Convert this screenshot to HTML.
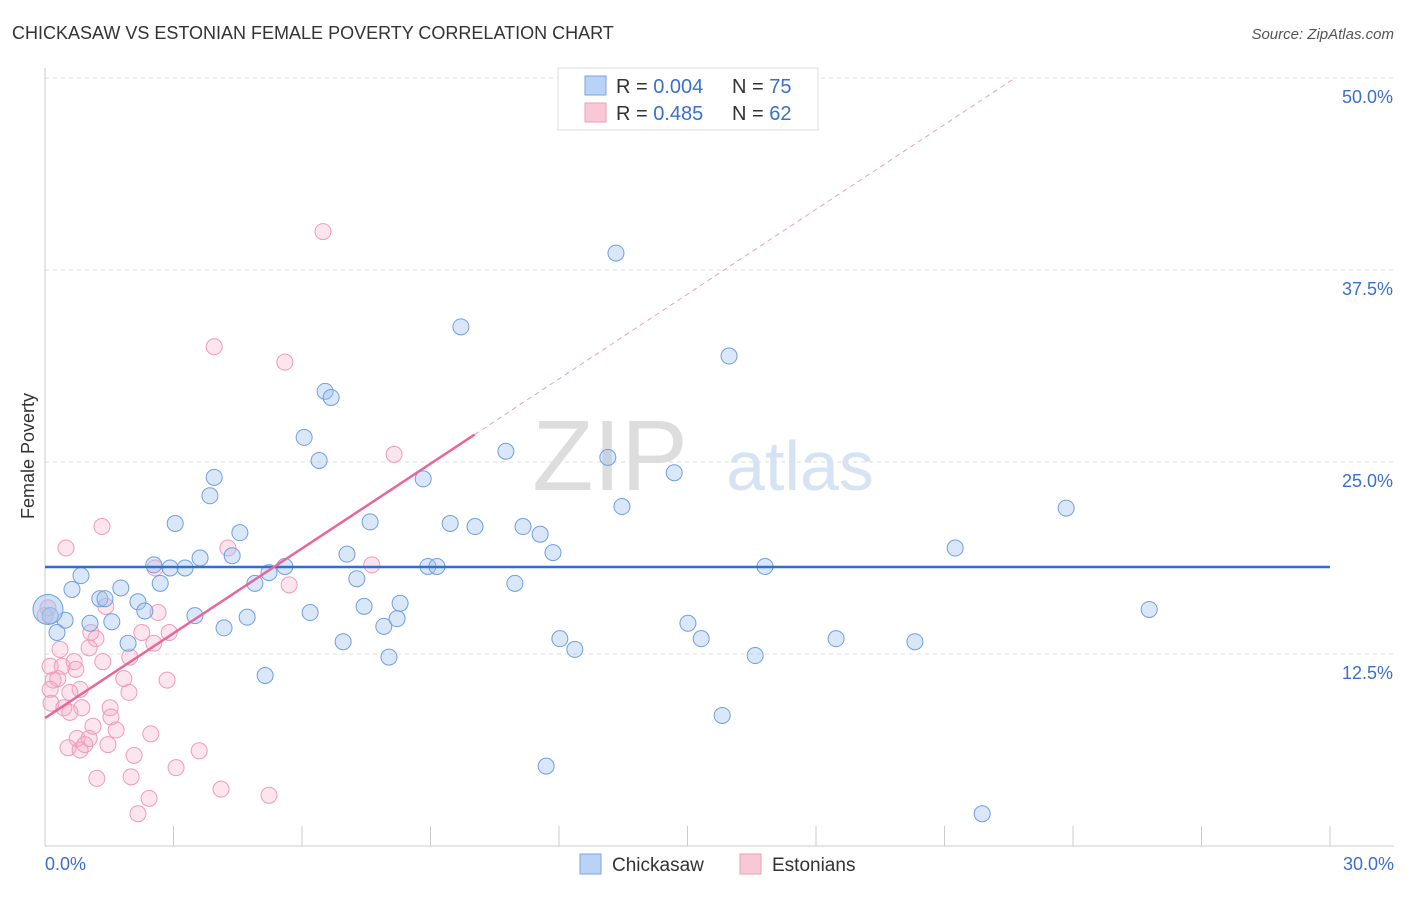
<!DOCTYPE html>
<html><head><meta charset="utf-8"><style>
body{margin:0;background:#fff;font-family:"Liberation Sans",sans-serif;}
svg text{font-family:"Liberation Sans",sans-serif;}
</style></head><body>
<svg id="chart" width="1406" height="892" viewBox="0 0 1406 892">
<text x="12" y="39" font-size="18" fill="#333">CHICKASAW VS ESTONIAN FEMALE POVERTY CORRELATION CHART</text>
<text x="1394" y="39" font-size="15" fill="#555" font-style="italic" text-anchor="end">Source: ZipAtlas.com</text>
<text x="34" y="456" font-size="18" fill="#333" transform="rotate(-90 34 456)" text-anchor="middle">Female Poverty</text>
<text x="610" y="490" font-size="100" fill="#ddd" font-family="Liberation Serif" text-anchor="middle">ZIP</text>
<text x="800" y="490" font-size="70" fill="#d6e3f5" text-anchor="middle">atlas</text>
<g id="grid"></g><g id="axes"></g>
<g id="pink"></g><g id="blue"></g><g id="lines"></g>
<g>
<rect x="558" y="68" width="260" height="62" fill="#fff" stroke="#ddd"/>
<rect x="585" y="76" width="21" height="19" fill="#b8d3f5" stroke="#7aa6e0"/>
<rect x="585" y="103" width="21" height="19" fill="#f8c8d6" stroke="#eba0b8"/>
<text x="616" y="93" font-size="20" fill="#333">R = <tspan fill="#3a6fcc">0.004</tspan></text>
<text x="732" y="93" font-size="20" fill="#333">N = <tspan fill="#3a6fcc">75</tspan></text>
<text x="616" y="120" font-size="20" fill="#333">R =  <tspan fill="#3a6fcc">0.485</tspan></text>
<text x="732" y="120" font-size="20" fill="#333">N = <tspan fill="#3a6fcc">62</tspan></text>
</g>
<g>
<rect x="580" y="854" width="21" height="20" fill="#b8d3f5" stroke="#7aa6e0"/>
<text x="612" y="871" font-size="19" fill="#333">Chickasaw</text>
<rect x="740" y="854" width="21" height="20" fill="#f8c8d6" stroke="#eba0b8"/>
<text x="772" y="871" font-size="19" fill="#333">Estonians</text>
</g>
</svg>
<script>
const yTicks=[12.5,25,37.5,50];
const yTickLabels=["12.5%","25.0%","37.5%","50.0%"];
const blueX=[13.33,9.71,15.97,6.54,6.68,6.05,6.40,10.76,3.95,8.83,13.14,14.69,3.85,23.84,13.47,3.04,7.59,9.46,10.04,11.16,11.56,4.55,11.86,21.25,7.05,4.37,3.62,2.54,2.92,3.27,5.23,5.60,8.94,9.15,16.81,0.84,7.28,10.97,2.69,4.90,0.63,1.77,1.28,2.17,8.29,7.45,2.33,6.19,3.50,4.72,8.22,25.78,0.47,1.56,1.05,7.91,15.01,0.28,4.18,12.02,15.32,18.47,6.96,1.94,20.31,12.37,8.03,16.58,5.14,15.81,11.70,21.88,1.40,0.12];
const blueY=[38.6,33.8,31.9,29.6,29.2,26.6,25.1,25.7,24.0,23.9,25.3,24.3,22.8,22.0,22.1,21.0,21.1,21.0,20.8,20.8,20.3,20.4,19.1,19.4,19.0,18.9,18.75,18.3,18.1,18.1,17.8,18.2,18.2,18.2,18.2,17.6,17.4,17.1,17.1,17.1,16.7,16.8,16.1,15.9,15.8,15.6,15.3,15.2,15.0,14.9,14.8,15.4,14.7,14.6,14.5,14.3,14.5,13.9,14.2,13.5,13.5,13.5,13.3,13.2,13.3,12.8,12.3,12.4,11.1,8.5,5.2,2.1,16.1,15.0];
const pinkX=[6.49,3.95,5.60,8.15,4.27,1.33,0.49,2.57,7.63,5.70,1.42,2.64,1.07,1.19,2.26,2.90,2.54,1.03,0.35,1.98,1.35,0.68,0.12,0.72,0.40,0.19,0.30,1.84,2.85,0.82,0.58,0.12,1.96,0.14,0.44,0.86,0.58,1.52,1.54,1.12,1.66,2.47,0.75,1.03,0.93,1.47,0.54,0.82,3.60,2.08,3.06,1.21,2.01,4.11,2.43,5.23,2.17,0.07,0];
const pinkY=[40.0,32.5,31.5,25.5,19.4,20.8,19.4,18.1,18.3,17.0,15.6,15.2,13.9,13.5,13.9,13.9,13.2,12.9,12.8,12.3,12.0,12.0,11.7,11.5,11.7,10.8,10.9,10.9,10.8,10.2,10.0,10.2,10.0,9.3,9.0,9.0,8.7,9.0,8.4,7.8,7.55,7.3,7.0,7.0,6.6,6.6,6.4,6.25,6.2,5.9,5.1,4.4,4.5,3.7,3.1,3.3,2.1,15.5,15.0];
const bigBlue=[0.07,15.4];
const blueTrend=[18.16,18.16];
const pinkTrend=[8.33,1.84];
const X0=45,X1=1330,Y0=846,Y1=78;
const sx=v=>X0+(X1-X0)*v/30, sy=v=>Y0-(Y0-Y1)*v/50;
const NS="http://www.w3.org/2000/svg";
function mk(t,a,p){const e=document.createElementNS(NS,t);for(const k in a)e.setAttribute(k,a[k]);p.appendChild(e);return e;}
const grid=document.getElementById('grid'),axes=document.getElementById('axes');
yTicks.forEach((v,i)=>{
 const l=mk('line',{x1:X0,x2:1394,y1:sy(v),y2:sy(v),stroke:'#ddd','stroke-dasharray':'4 4'},grid);
 
 
 const t=mk('text',{x:1393,y:sy(v)+25,'font-size':18,fill:'#3a6fcc','text-anchor':'end'},grid);
 t.textContent=yTickLabels[i];
 
 
});
const ax=mk('line',{x1:X0,x2:X0,y1:68,y2:Y0,stroke:'#ccc'},axes);


const bx=mk('line',{x1:X0,x2:1394,y1:Y0,y2:Y0,stroke:'#ccc'},axes);


for(let i=0;i<=10;i++){const x=sx(i*3);const t=mk('line',{x1:x,x2:x,y1:826,y2:Y0,stroke:'#ccc'},axes);
 
 }
[[0,"0.0%","start",45],[30,"30.0%","end",1394]].forEach(d=>{const t=mk('text',{x:d[3],y:870,'font-size':18,fill:'#3a6fcc','text-anchor':d[2]},axes);t.textContent=d[1];
 
 });
const pg=document.getElementById('pink'),bg=document.getElementById('blue');
pinkX.forEach((x,i)=>{const c=mk('circle',{cx:sx(x),cy:sy(pinkY[i]),r:8,fill:'rgba(245,170,195,0.3)',stroke:'#f09ab8','stroke-width':1},pg);
 
 });
blueX.forEach((x,i)=>{const c=mk('circle',{cx:sx(x),cy:sy(blueY[i]),r:8,fill:'rgba(160,195,240,0.4)',stroke:'#6f9fe0','stroke-width':1},bg);
 
 });
const bb=mk('circle',{cx:sx(bigBlue[0]),cy:sy(bigBlue[1]),r:15,fill:'rgba(160,195,240,0.5)',stroke:'#6f9fe0'},bg);


const lg=document.getElementById('lines');
const bl=mk('line',{x1:X0,x2:X1,y1:sy(blueTrend[0]),y2:sy(blueTrend[1]),stroke:'#2f6fd0','stroke-width':2.5},lg);


const pf=v=>pinkTrend[0]+pinkTrend[1]*v;
const ps=mk('line',{x1:sx(0),y1:sy(pf(0)),x2:sx(10.03),y2:sy(pf(10.03)),stroke:'#e8679a','stroke-width':2.5},lg);


const pd=mk('line',{x1:sx(10.03),y1:sy(pf(10.03)),x2:sx(22.6),y2:sy(pf(22.6)),stroke:'#eaa0bc','stroke-width':1,'stroke-dasharray':'5 4'},lg);


</script>
</body></html>
